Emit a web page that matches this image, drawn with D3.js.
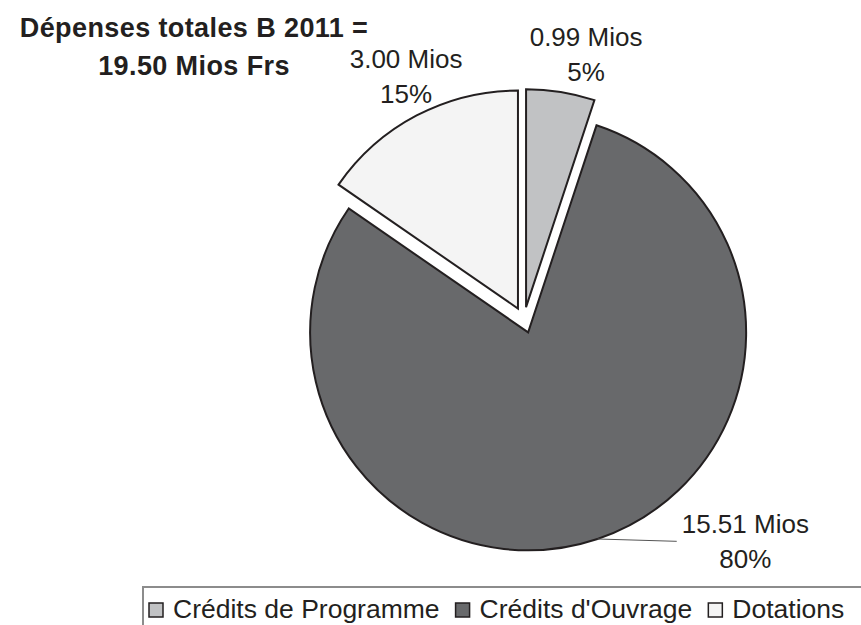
<!DOCTYPE html>
<html>
<head>
<meta charset="utf-8">
<script src="https://cdn.jsdelivr.net/npm/d3@7"></script>
<style>
    html, body { margin: 0; padding: 0; background: #fff; }
    svg { display: block; font-family: "Liberation Sans", Arial, sans-serif; }
</style>
</head>
<body>
<svg id="chart" width="861" height="625"></svg>
<script>
// chart data
const categories = ["Crédits de Programme", "Crédits d'Ouvrage", "Dotations"];
const amounts = [0.99, 15.51, 3.00];
const sliceColors = ["#c1c2c4", "#68696b", "#f4f4f4"];
const titleText = "Dépenses totales B 2011 =";
const unit = "Mios";

const svg = d3.select("#chart");
const ink = "#231f20";

const total = d3.sum(amounts);
const fmtAmount = d3.format(".2f");
const fmtPct = d3.format(".0%");

// pie geometry
const cx = 524, cy = 320, radius = 218, explode = 13;

const pie = d3.pie().sort(null).value(d => d);
const arcs = pie(amounts);
const arc = d3.arc().innerRadius(0).outerRadius(radius);

const midAngle = d => (d.startAngle + d.endAngle) / 2;
const polar = (a, r) => [Math.sin(a) * r, -Math.cos(a) * r];

const g = svg.append("g").attr("transform", `translate(${cx},${cy})`);

g.selectAll("path.slice")
    .data(arcs)
    .join("path")
    .attr("class", "slice")
    .attr("transform", d => {
        const [ox, oy] = polar(midAngle(d), explode);
        return `translate(${ox},${oy})`;
    })
    .attr("d", arc)
    .attr("fill", (d, i) => sliceColors[i])
    .attr("stroke", ink)
    .attr("stroke-width", 2)
    .attr("stroke-linejoin", "miter");

// labels: outside end, the big slice label is pulled out with a leader line
const labelRadius = 258;
const labelNudge = { 0: [19, 2], 2: [8, -4] };
const movedLabel = { index: 1, angle: 135 * Math.PI / 180, dist: 313 };
const lineGap = 35;

arcs.forEach((d, i) => {
    const a = midAngle(d);
    const [ox, oy] = polar(a, explode);
    let lx, ly;
    if (i === movedLabel.index) {
        [lx, ly] = polar(movedLabel.angle, movedLabel.dist);
    } else {
        const [px, py] = polar(a, labelRadius);
        const n = labelNudge[i] || [0, 0];
        lx = ox + px + n[0];
        ly = oy + py + n[1];
    }

    const t = g.append("text")
        .attr("text-anchor", "middle")
        .attr("font-size", 26)
        .attr("fill", ink);
    t.append("tspan").attr("x", lx).attr("y", ly - 8.5)
        .text(`${fmtAmount(d.data)} ${unit}`);
    t.append("tspan").attr("x", lx).attr("y", ly - 8.5 + lineGap)
        .text(fmtPct(d.data / total));

    if (i === movedLabel.index) {
        const w = t.node().getBBox().width;
        const [sx, sy] = polar(a, radius);
        g.append("line")
            .attr("x1", ox + sx).attr("y1", oy + sy)
            .attr("x2", lx - w / 2 - 5).attr("y2", ly)
            .attr("stroke", "#555")
            .attr("stroke-width", 1);
    }
});

// title
const title = svg.append("text")
    .attr("text-anchor", "middle")
    .attr("font-size", 27)
    .attr("font-weight", "bold")
    .attr("letter-spacing", 0.4)
    .attr("fill", ink);
title.append("tspan").attr("x", 194).attr("y", 37).text(titleText);
title.append("tspan").attr("x", 194).attr("y", 75)
    .text(`${fmtAmount(total)} ${unit} Frs`);

// legend
const legendTop = 587, legendLeft = 143;
svg.append("path")
    .attr("d", `M${legendLeft},625V${legendTop}H861`)
    .attr("fill", "none")
    .attr("stroke", "#8c8c8c")
    .attr("stroke-width", 2);

const legend = svg.append("g");
let xPos = 149;
categories.forEach((c, i) => {
    legend.append("rect")
        .attr("x", xPos).attr("y", 603)
        .attr("width", 14).attr("height", 14)
        .attr("fill", sliceColors[i])
        .attr("stroke", ink)
        .attr("stroke-width", 1.5);
    const txt = legend.append("text")
        .attr("x", xPos + 24).attr("y", 618)
        .attr("font-size", 26.5)
        .attr("fill", ink)
        .text(c);
    xPos += 24 + txt.node().getComputedTextLength() + 16;
});
</script>
</body>
</html>
